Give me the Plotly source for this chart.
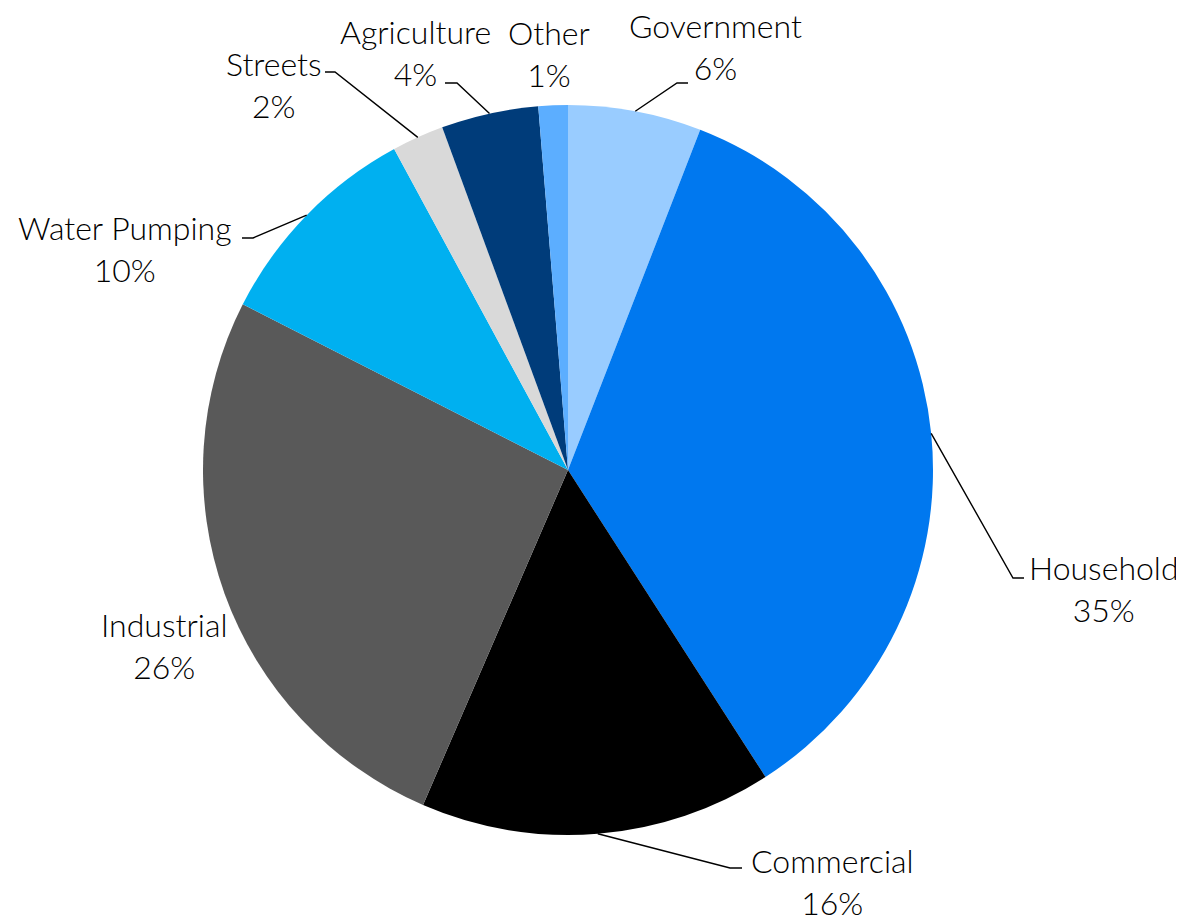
import math
import plotly.graph_objects as go

# ---- data ----
categories = ["Government", "Household", "Commercial", "Industrial",
              "Water Pumping", "Streets", "Agriculture", "Other"]
shares = [5.9, 35.0, 15.6, 26.0, 9.6, 2.3, 4.3, 1.3]
colors = ["#99CCFF", "#0078EF", "#000000", "#595959",
          "#00B0F0", "#D9D9D9", "#003C7A", "#5CAEFF"]

# ---- layout (pixels, in page coordinates; the page body has an 8px margin) ----
OFF = 8
W, H = 1184 - OFF, 921 - OFF
L, T, S = 203 - OFF, 105 - OFF, 730      # plot area left, top, size (square)
CX, CY, R = L + S / 2, T + S / 2, S / 2
FONT = "Lato"
FS = 32

# label block centres and leader-line elbows/ends (page pixel positions)
label_pos = {
    "Government": (715, 47), "Household": (1104, 588), "Commercial": (832, 881),
    "Industrial": (164, 645), "Water Pumping": (125, 248), "Streets": (274, 84),
    "Agriculture": (415, 52), "Other": (549, 54),
}
leaders = {
    "Government": ((677, 83), (688, 83)),
    "Household": ((1013, 578), (1024, 578)),
    "Commercial": ((730, 868), (742, 868)),
    "Water Pumping": ((253, 238), (242, 238)),
    "Streets": ((335, 72), (325, 72)),
    "Agriculture": ((457, 83), (445, 83)),
}


def px(x, y, page=True):
    if page:
        x, y = x - OFF, y - OFF
    return (x - L) / S, (T + S - y) / S


fig = go.Figure(go.Pie(
    labels=categories, values=shares, sort=False, direction="clockwise",
    rotation=0, marker=dict(colors=colors, line=dict(width=0)),
    textinfo="none", hoverinfo="label+percent", showlegend=False,
))

total = sum(shares)
annotations, shapes = [], []
cum = 0.0
for name, v in zip(categories, shares):
    mid = (cum + v / 2) / total * 2 * math.pi
    cum += v
    pct = round(v / total * 100)
    lx, ly = px(*label_pos[name])
    annotations.append(dict(
        x=lx, y=ly, xref="paper", yref="paper", xanchor="center", yanchor="middle",
        text=f"{name}<br>{pct}%", showarrow=False, align="center",
        font=dict(family=FONT, size=FS, color="#000000", weight=300),
    ))
    if name in leaders:
        rx, ry = CX + R * math.sin(mid), CY - R * math.cos(mid)
        (ex, ey), (sx, sy) = leaders[name]
        p0, p1, p2 = px(rx, ry, page=False), px(ex, ey), px(sx, sy)
        shapes.append(dict(
            type="path", xref="paper", yref="paper",
            path=f"M {p0[0]} {p0[1]} L {p1[0]} {p1[1]} L {p2[0]} {p2[1]}",
            line=dict(color="#000000", width=1.4),
        ))

fig.update_layout(
    width=W, height=H,
    margin=dict(l=L, r=W - L - S, t=T, b=H - T - S, autoexpand=False),
    paper_bgcolor="#FFFFFF", plot_bgcolor="#FFFFFF",
    annotations=annotations, shapes=shapes,
    font=dict(family=FONT, size=FS),
)

fig.write_html("out.html")
